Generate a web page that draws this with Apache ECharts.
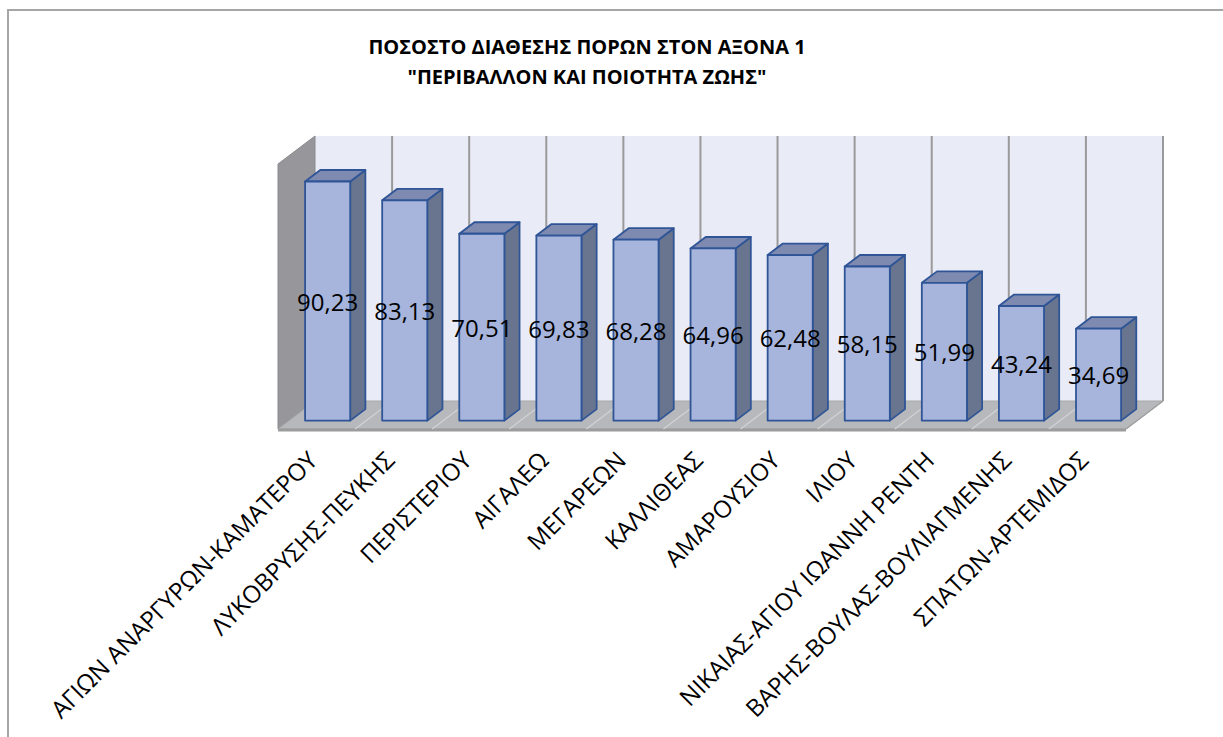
<!DOCTYPE html>
<html>
<head>
<meta charset="utf-8">
<script src="https://cdn.jsdelivr.net/npm/echarts@6/dist/echarts.min.js"></script>
<style>
html,body{margin:0;padding:0;background:#fff;}
#chart{width:1223px;height:737px;}
</style>
</head>
<body>
<div id="chart"></div>
<script>
var titleLines = ['ΠΟΣΟΣΤΟ ΔΙΑΘΕΣΗΣ ΠΟΡΩΝ ΣΤΟΝ ΑΞΟΝΑ 1', '"ΠΕΡΙΒΑΛΛΟΝ ΚΑΙ ΠΟΙΟΤΗΤΑ ΖΩΗΣ"'];
var categories = [
  'ΑΓΙΩΝ ΑΝΑΡΓΥΡΩΝ-ΚΑΜΑΤΕΡΟΥ',
  'ΛΥΚΟΒΡΥΣΗΣ-ΠΕΥΚΗΣ',
  'ΠΕΡΙΣΤΕΡΙΟΥ',
  'ΑΙΓΑΛΕΩ',
  'ΜΕΓΑΡΕΩΝ',
  'ΚΑΛΛΙΘΕΑΣ',
  'ΑΜΑΡΟΥΣΙΟΥ',
  'ΙΛΙΟΥ',
  'ΝΙΚΑΙΑΣ-ΑΓΙΟΥ ΙΩΑΝΝΗ ΡΕΝΤΗ',
  'ΒΑΡΗΣ-ΒΟΥΛΑΣ-ΒΟΥΛΙΑΓΜΕΝΗΣ',
  'ΣΠΑΤΩΝ-ΑΡΤΕΜΙΔΟΣ'
];
var values = [90.23, 83.13, 70.51, 69.83, 68.28, 64.96, 62.48, 58.15, 51.99, 43.24, 34.69];
var valueMax = 100;

var DEPTH = [37, -28];       // full depth offset of the 3D box
var BAR_FRONT = 0.30;        // bar front plane (fraction of depth)
var BAR_BACK = 0.71;         // bar back plane
var BAR_WIDTH = 0.585;       // fraction of category band

function fmt(v){ return v.toFixed(2).replace('.', ','); }
function sh(p, f){ return [p[0] + DEPTH[0]*f, p[1] + DEPTH[1]*f]; }

var chart = echarts.init(document.getElementById('chart'), null, {renderer: 'svg'});

function renderWalls(params, api){
  var n = categories.length;
  var band = api.size([1, 0])[0];
  var c0 = api.coord([0, 0]);
  var cTop = api.coord([0, valueMax]);
  var x0 = c0[0] - band/2, x1 = x0 + band*n;
  var yb = c0[1], yt = cTop[1];
  var children = [];
  var bl = sh([x0, yb], 1), br = sh([x1, yb], 1), bt = sh([x1, yt], 1), btl = sh([x0, yt], 1);
  children.push({type:'polygon', shape:{points:[bl, br, bt, btl]}, style:{fill:'#E9EBF6', stroke:null}});
  children.push({type:'polygon', shape:{points:[[x0, yb],[x0, yt], btl, bl]}, style:{fill:'#97979B', stroke:'#8a8a8e', lineWidth:1}});
  children.push({type:'polygon', shape:{points:[[x0, yb],[x1, yb], br, bl]}, style:{fill:'#B6B8BC', stroke:'#A8A8AA', lineWidth:1}});
  children.push({type:'line', shape:{x1:x0, y1:yb+1, x2:x1, y2:yb+1}, style:{stroke:'#9C9C9C', lineWidth:3}});
  for (var i = 1; i <= n; i++){
    var x = x0 + band*i;
    var p1 = sh([x, yb], 1), p2 = sh([x, yt], 1);
    children.push({type:'line', shape:{x1:p1[0], y1:p1[1], x2:p2[0], y2:p2[1]}, style:{stroke:'#9A9A9A', lineWidth:2}});
    if (i < n) {
      children.push({type:'line', shape:{x1:x, y1:yb, x2:p1[0], y2:p1[1]}, style:{stroke:'#D2D3D6', lineWidth:1.2}});
    }
  }
  children.push({type:'line', shape:{x1:x1, y1:yb, x2:br[0], y2:br[1]}, style:{stroke:'#A0A0A0', lineWidth:1.5}});
  return {type:'group', children:children};
}

function renderBar(params, api){
  var idx = api.value(0);
  var v = api.value(1);
  var band = api.size([1, 0])[0];
  var base = api.coord([idx, 0]);
  var top = api.coord([idx, v]);
  var w = band * BAR_WIDTH;
  var l = base[0] - w/2, r = base[0] + w/2;
  var fbl = sh([l, base[1]], BAR_FRONT), fbr = sh([r, base[1]], BAR_FRONT);
  var ftl = sh([l, top[1]], BAR_FRONT), ftr = sh([r, top[1]], BAR_FRONT);
  var btl = sh([l, top[1]], BAR_BACK), btr = sh([r, top[1]], BAR_BACK), bbr = sh([r, base[1]], BAR_BACK);
  var stroke = '#2F5597';
  return {type:'group', children:[
    {type:'polygon', shape:{points:[fbr, bbr, btr, ftr]}, style:{fill:'#69758F', stroke:stroke, lineWidth:1.8, lineJoin:'round'}},
    {type:'polygon', shape:{points:[ftl, ftr, btr, btl]}, style:{fill:'#7E8AB0', stroke:stroke, lineWidth:1.8, lineJoin:'round'}},
    {type:'polygon', shape:{points:[fbl, fbr, ftr, ftl]}, style:{fill:'#A7B5DC', stroke:stroke, lineWidth:1.8, lineJoin:'round'}},
    {type:'text', x:(fbl[0]+fbr[0])/2, y:(fbl[1]+ftl[1])/2, style:{text:fmt(v), fill:'#000', font:'24px "Open Sans"', textAlign:'center', textVerticalAlign:'middle'}}
  ]};
}

var barData = values.map(function(v, i){ return [i, v]; });

chart.setOption({
  backgroundColor:'#fff',
  animation:false,
  title:{
    text: titleLines.join('\n'),
    left: 582, top: 26, textAlign:'center',
    textStyle:{fontFamily:'Open Sans', fontWeight:'bold', fontSize:20, lineHeight:30, color:'#000'}
  },
  graphic:[{type:'rect', shape:{x:8, y:10, width:1240, height:760}, style:{fill:null, stroke:'#A6A6A6', lineWidth:2}, silent:true, z:-10}],
  grid:{left:278, right:97, top:164, bottom:308, containLabel:false},
  xAxis:{
    type:'category', data:categories,
    axisLine:{show:false}, axisTick:{show:false}, splitLine:{show:false},
    axisLabel:{rotate:45, margin:22, interval:0, color:'#000', fontFamily:'Open Sans', fontSize:24, padding:[0, 6, 0, 0]}
  },
  yAxis:{type:'value', min:0, max:valueMax, show:false},
  series:[
    {type:'custom', name:'walls', data:[[0, 0]], renderItem:renderWalls, z:1, silent:true},
    {type:'custom', name:'ποσοστό', data:barData, encode:{x:0, y:1}, renderItem:renderBar, z:2}
  ]
});
</script>
</body>
</html>
